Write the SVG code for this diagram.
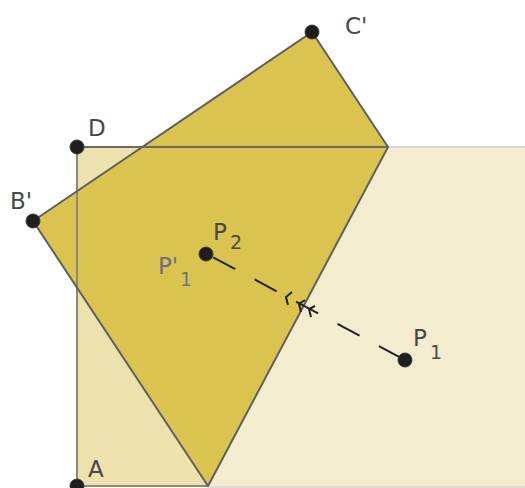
<svg xmlns="http://www.w3.org/2000/svg" width="525" height="488" viewBox="0 0 525 488">
<style>
.lbl{font-family:"DejaVu Sans",sans-serif;font-size:23px;fill:#484848}
.sub{font-size:19px}
.blue{fill:#6a7184}
.pt{fill:#1e1e1e;stroke:#3a3a3a;stroke-width:1}
.edge{fill:none;stroke:#5f5f5f;stroke-width:2;stroke-linejoin:round}
.chev{fill:none;stroke:#222;stroke-width:2}
</style>
<rect width="525" height="488" fill="#ffffff"/>
<g id="rectangle">
<rect x="77" y="147" width="448" height="339" fill="#f3ecce"/>
<polygon points="77,486 208,486 388,147 77,147" fill="#ede1ad"/>
<line x1="388" y1="147" x2="525" y2="147" stroke="#d6d6d6" stroke-width="2"/>
<line x1="208" y1="487" x2="525" y2="487" stroke="#dcdcdc" stroke-width="2"/>
</g>
<g id="folded">
<polygon points="312,32 388,147 208,486 33,221" fill="#dbc34f"/>
</g>
<g id="rect-edges">
<line x1="77" y1="147" x2="77" y2="486" stroke="#8a8a7a" stroke-width="2"/>
<line x1="77" y1="147" x2="388" y2="147" stroke="#6a6a6a" stroke-width="2"/>
<line x1="77" y1="486" x2="208" y2="486" stroke="#8a8a7a" stroke-width="2"/>
</g>
<g id="folded-edges">
<polygon class="edge" points="312,32 388,147 208,486 33,221"/>
</g>
<g id="connectors">
<line x1="207" y1="254" x2="405" y2="360" stroke="#222" stroke-width="2" stroke-dasharray="25 22" stroke-dashoffset="-7"/>
<polyline class="chev" points="292,292 286,297 288,305"/>
<polyline class="chev" points="305,300 299,304 301,312"/>
<polyline class="chev" points="315,306 309,309 311,317"/>
</g>
<g id="C1"><circle class="pt" cx="312" cy="32" r="7"/><text class="lbl" x="345" y="34">C'</text></g>
<g id="D"><circle class="pt" cx="77" cy="147" r="7"/><text class="lbl" x="88" y="136">D</text></g>
<g id="B1"><circle class="pt" cx="33" cy="221" r="7"/><text class="lbl" x="10" y="209">B'</text></g>
<g id="A"><circle class="pt" cx="77" cy="486" r="7"/><text class="lbl" x="88" y="477">A</text></g>
<g id="P2"><circle class="pt" cx="206" cy="254" r="7"/>
<text class="lbl" x="213" y="240">P<tspan class="sub" x="230" y="249">2</tspan></text>
<text class="lbl blue" x="158" y="274">P'<tspan class="sub" x="180" y="286">1</tspan></text></g>
<g id="P1"><circle class="pt" cx="405" cy="360" r="7"/>
<text class="lbl" x="413" y="346">P<tspan class="sub" x="430" y="359">1</tspan></text></g>
</svg>
